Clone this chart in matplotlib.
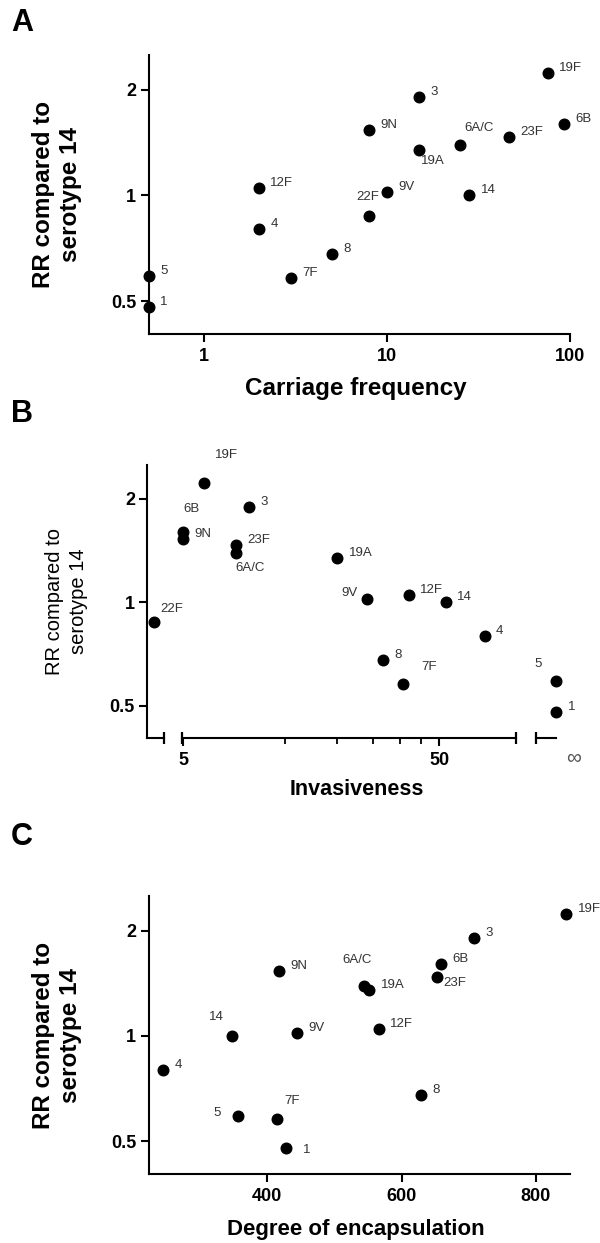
import numpy as np
import matplotlib
matplotlib.use("Agg")
import matplotlib.pyplot as plt
import matplotlib.transforms as mtransforms
from matplotlib.ticker import NullLocator, NullFormatter

plt.rcParams['font.family'] = ['Liberation Sans', 'DejaVu Sans']

# serotypes and their values
serotypes = ['19F', '3', '6B', '9N', '23F', '6A/C', '19A', '12F', '9V', '14',
             '22F', '4', '8', '7F', '5', '1']
rr = [2.23, 1.90, 1.60, 1.53, 1.47, 1.39, 1.35, 1.05, 1.02, 1.00,
      0.875, 0.80, 0.68, 0.58, 0.59, 0.48]
carriage = [75, 15, 92, 8, 46, 25, 15, 2, 10, 28, 8, 2, 5, 3, 0.5, 0.5]
invasiveness = [6, 9, 5, 5, 8, 8, 20, 38, 26, 53, 3.85, 75, 30, 36, np.inf, np.inf]
encapsulation = [845, 708, 659, 417, 653, 544.5, 552, 566, 444, 348, np.nan,
                 245, 629, 415, 357, 428]

y_ticks = [0.5, 1, 2]
y_ticklabels = ['0.5', '1', '2']

# label placement (offset in points, horizontal alignment); default is right of the dot
DEFAULT_OFF = (8.3, 3.6, 'left')
offsets_a = {'6A/C': (14, 12, 'center'), '19A': (1, -8, 'left'), '22F': (-1, 13.5, 'center')}
offsets_b = {'19F': (8.4, 20, 'left'), '6B': (0, 16.5, 'left'), '6A/C': (0, -10.3, 'left'),
             '9V': (-6.5, 4.3, 'right'), '22F': (4.7, 9.4, 'left'), '7F': (13.3, 12.2, 'left'),
             '5': (-10, 12, 'right')}
offsets_c = {'23F': (4.3, -4.3, 'left'), '6A/C': (-5, 18.7, 'center'), '14': (-6.5, 13.7, 'right'),
             '5': (-13, 2.2, 'right'), '7F': (5, 13, 'left'), '1': (12, -1.5, 'left')}

DOT = 58
LBL_COLOR = '#333333'


def base_style(ax):
    ax.set_facecolor('none')
    for s in ['top', 'right']:
        ax.spines[s].set_visible(False)
    for s in ['left', 'bottom']:
        ax.spines[s].set_linewidth(1.5)
    ax.tick_params(which='major', length=6, width=1.5, labelsize=13)
    ax.tick_params(axis='x', pad=4)
    ax.tick_params(axis='y', pad=3)
    for lab in ax.get_xticklabels() + ax.get_yticklabels():
        lab.set_fontweight('bold')


def y_axis(ax):
    ax.set_yscale('log')
    ax.set_ylim(0.403, 2.51)
    ax.set_yticks(y_ticks, y_ticklabels, fontweight='bold')
    ax.yaxis.set_minor_locator(NullLocator())


def label_points(ax, xs, ys, names, offsets):
    for x, y, n in zip(xs, ys, names):
        dx, dy, ha = offsets.get(n, DEFAULT_OFF)
        ax.annotate(n, (x, y), xytext=(dx, dy), textcoords='offset points',
                    ha=ha, va='center', fontsize=9.5, color=LBL_COLOR,
                    annotation_clip=False)


fig = plt.figure(figsize=(6, 12.43), dpi=100)

# ---------------- A ----------------
axA = fig.add_axes([0.2475, 0.7313, 0.7032, 0.2245])
axA.scatter(carriage, rr, s=DOT, color='k', clip_on=False, zorder=3)
label_points(axA, carriage, rr, serotypes, offsets_a)
axA.set_xscale('log')
axA.set_xlim(0.5, 100)
axA.set_xticks([1, 10, 100], ['1', '10', '100'], fontweight='bold')
axA.xaxis.set_minor_locator(NullLocator())
y_axis(axA)
base_style(axA)
axA.set_xlabel('Carriage frequency', fontsize=17.5, fontweight='bold')
axA.xaxis.set_label_coords(0.492, -0.154)
axA.set_ylabel('RR compared to\nserotype 14', fontsize=17.5, fontweight='bold', va='center')
axA.yaxis.set_label_coords(-0.217, 0.5)

# ---------------- B (broken x axis) ----------------
inv = np.array(invasiveness)
rr_arr = np.array(rr)
names = np.array(serotypes)
seg1_lim = (3.62, 4.22)
seg2_lim = (4.93, 99.5)
low = np.isfinite(inv) & (inv <= seg1_lim[1])
mid = np.isfinite(inv) & (inv > seg1_lim[1])
inf = ~np.isfinite(inv)

bottom_b, height_b = 0.4063, 0.2196
axB1 = fig.add_axes([0.2458, bottom_b, 0.028, height_b])
axB2 = fig.add_axes([0.3028, bottom_b, 0.5572, height_b])
axB3 = fig.add_axes([0.8938, bottom_b, 0.0328, height_b])

axB1.scatter(inv[low], rr_arr[low], s=DOT, color='k', clip_on=False, zorder=3)
label_points(axB1, inv[low], rr_arr[low], names[low], offsets_b)
axB1.set_xscale('log')
axB1.set_xlim(*seg1_lim)
axB1.set_xticks([])
axB1.xaxis.set_minor_locator(NullLocator())
y_axis(axB1)

axB2.scatter(inv[mid], rr_arr[mid], s=DOT, color='k', clip_on=False, zorder=3)
label_points(axB2, inv[mid], rr_arr[mid], names[mid], offsets_b)
axB2.set_xscale('log')
axB2.set_xlim(*seg2_lim)
axB2.set_xticks([5, 50], ['5', '50'], fontweight='bold')
axB2.set_xticks([12.5, 20, 27.5, 35, 42.5], minor=True)
axB2.xaxis.set_minor_formatter(NullFormatter())
axB2.tick_params(which='minor', length=4, width=1.3)
y_axis(axB2)

inf_x = ['\u221e'] * int(inf.sum())
axB3.scatter(inf_x, rr_arr[inf], s=DOT, color='k', clip_on=False, zorder=3)
label_points(axB3, inf_x, rr_arr[inf], names[inf], offsets_b)
axB3.set_xlim(-1, 0)
y_axis(axB3)

for ax in [axB1, axB2, axB3]:
    base_style(ax)
for ax in [axB2, axB3]:
    ax.spines['left'].set_visible(False)
    ax.tick_params(axis='y', which='both', left=False, labelleft=False)

axB3.tick_params(axis='x', length=0, labelsize=15, labelcolor='#555555')
for lab in axB3.get_xticklabels():
    lab.set_fontweight('normal')
    lab.set_transform(lab.get_transform() + mtransforms.ScaledTranslation(13 / 72, -4 / 72, fig.dpi_scale_trans))

# break bars at segment ends
bar_kw = dict(ls='none', marker='|', ms=8.5, mew=1.6, color='k', clip_on=False)
axB1.plot([1], [0], transform=axB1.transAxes, **bar_kw)
axB2.plot([0, 1], [0, 0], transform=axB2.transAxes, **bar_kw)
axB3.plot([0], [0], transform=axB3.transAxes, **bar_kw)

axB2.set_xlabel('Invasiveness', fontsize=15.5, fontweight='bold')
axB2.xaxis.set_label_coords(0.524, -0.151)
axB1.set_ylabel('RR compared to\nserotype 14', fontsize=14.5, va='center', linespacing=1.3)
axB1.yaxis.set_label_coords(-4.82, 0.5)

# ---------------- C ----------------
axC = fig.add_axes([0.248, 0.0553, 0.7027, 0.2239])
enc = np.array(encapsulation)
has = np.isfinite(enc)
axC.scatter(enc[has], rr_arr[has], s=DOT, color='k', clip_on=False, zorder=3)
label_points(axC, enc[has], rr_arr[has], names[has], offsets_c)
axC.set_xlim(223.5, 851.5)
axC.set_xticks([400, 600, 800], ['400', '600', '800'], fontweight='bold')
y_axis(axC)
base_style(axC)
axC.set_xlabel('Degree of encapsulation', fontsize=16, fontweight='bold')
axC.xaxis.set_label_coords(0.491, -0.159)
axC.set_ylabel('RR compared to\nserotype 14', fontsize=17.5, fontweight='bold', va='center')
axC.yaxis.set_label_coords(-0.218, 0.5)

# panel letters
for letter, ypx in [('A', 23), ('B', 414), ('C', 837)]:
    fig.text(11 / 600, 1 - ypx / 1243, letter, fontsize=22, fontweight='bold',
             ha='left', va='center')

fig.savefig('out.png', dpi=100)
